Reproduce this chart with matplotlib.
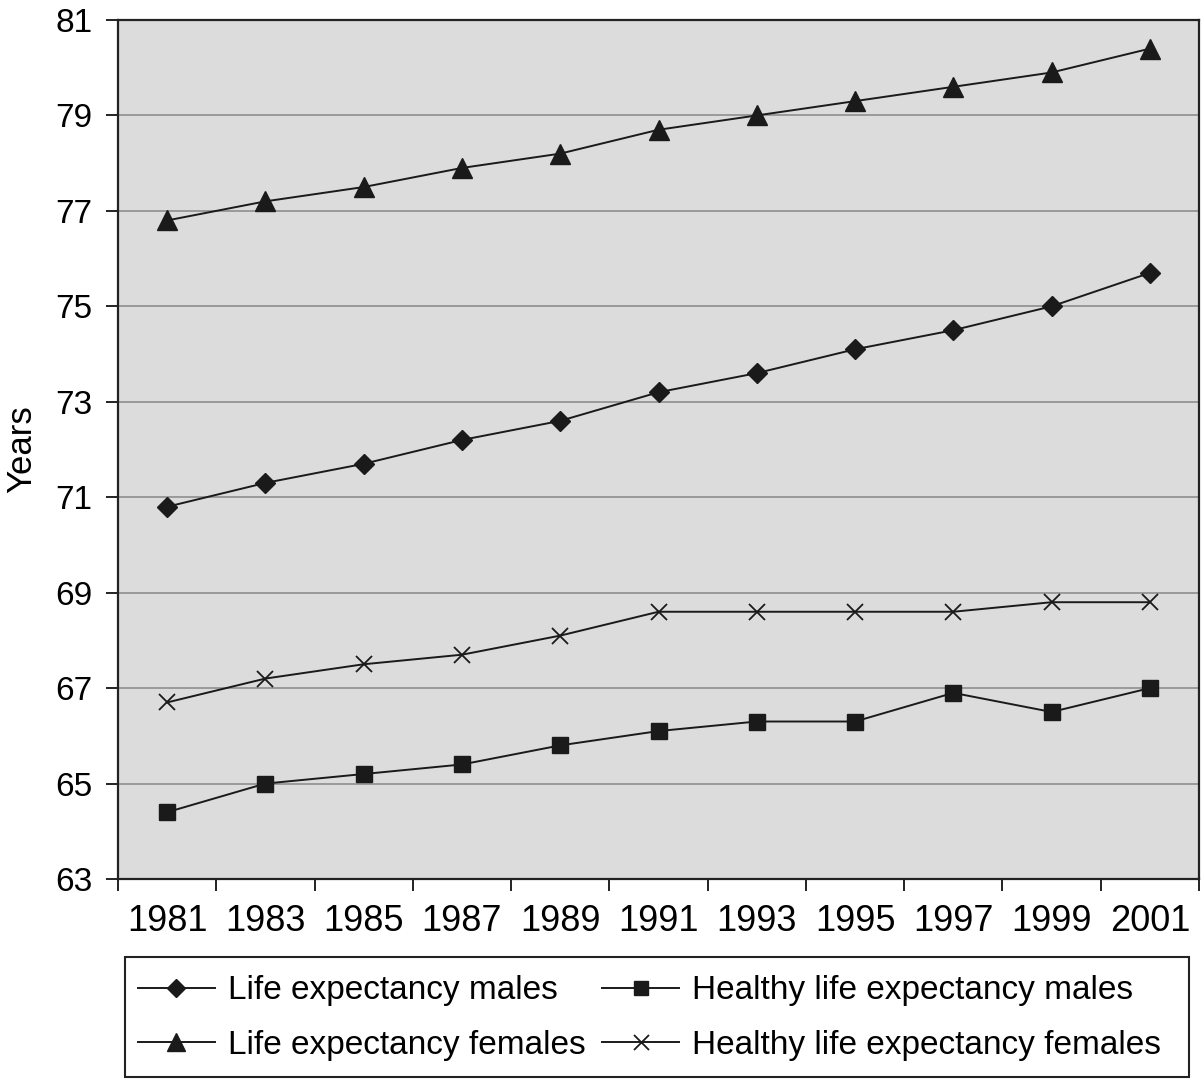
import matplotlib
matplotlib.use("Agg")
import matplotlib.pyplot as plt
from matplotlib.patches import Rectangle
import numpy as np

plt.rcParams['font.family'] = ['Liberation Sans', 'DejaVu Sans']

years = ['1981', '1983', '1985', '1987', '1989', '1991', '1993', '1995', '1997', '1999', '2001']
le_males = [70.8, 71.3, 71.7, 72.2, 72.6, 73.2, 73.6, 74.1, 74.5, 75.0, 75.7]
le_females = [76.8, 77.2, 77.5, 77.9, 78.2, 78.7, 79.0, 79.3, 79.6, 79.9, 80.4]
hle_males = [64.4, 65.0, 65.2, 65.4, 65.8, 66.1, 66.3, 66.3, 66.9, 66.5, 67.0]
hle_females = [66.7, 67.2, 67.5, 67.7, 68.1, 68.6, 68.6, 68.6, 68.6, 68.8, 68.8]
y_ticks = [63, 65, 67, 69, 71, 73, 75, 77, 79, 81]

W, H = 1204, 1079
fig = plt.figure(figsize=(W/100, H/100), dpi=100)
ax = fig.add_axes([118/W, 1-879/H, (1199-118)/W, (879-20)/H])
ax.set_facecolor('#dcdcdc')

x = np.arange(len(years))
c = '#1a1a1a'
lw = 1.4
h1, = ax.plot(x, le_males, color=c, lw=lw, marker='D', ms=10.5, label='Life expectancy males')
h2, = ax.plot(x, le_females, color=c, lw=lw, marker='^', ms=14, label='Life expectancy females')
h3, = ax.plot(x, hle_males, color=c, lw=lw, marker='s', ms=11, label='Healthy life expectancy males')
h4, = ax.plot(x, hle_females, color=c, lw=lw, marker='x', ms=12, mew=1.3, label='Healthy life expectancy females')

ax.set_xlim(-0.5, len(years) - 0.5)
ax.set_ylim(63, 81)
ax.set_yticks(y_ticks)
ax.set_yticklabels([str(v) for v in y_ticks], fontsize=24)
ax.yaxis.grid(True, color='#9a9a9a', lw=1.4)
ax.set_axisbelow(True)

ax.set_xticks(x)
ax.set_xticklabels(years, fontsize=26)
ax.set_xticks(np.arange(-0.5, len(years), 1.0), minor=True)
ax.tick_params(axis='x', which='major', length=0, pad=18)
ax.tick_params(axis='x', which='minor', length=8.6, width=1.4, direction='out', color='#222222')
ax.tick_params(axis='y', length=8.6, width=1.4, direction='out', color='#222222', pad=10)
for s in ax.spines.values():
    s.set_color('#222222')
    s.set_linewidth(1.6)

ax.set_ylabel('Years', fontsize=25, labelpad=12)

leg = fig.legend(handles=[h1, h2, h3, h4], loc='center left',
                 bbox_to_anchor=(138/W, 1-1018/H),
                 ncol=2, fontsize=24, frameon=False,
                 handlelength=2.3, handletextpad=0.4,
                 borderaxespad=0, columnspacing=0.5, labelspacing=0.7, borderpad=0.0)
for lh in leg.legend_handles:
    lh.set_markersize(lh.get_markersize() * 0.9)

fig.add_artist(Rectangle((125/W, 1-1077/H), (1189-125)/W, (1077-957)/H,
                         transform=fig.transFigure, fill=False,
                         edgecolor='#222222', lw=1.5))

fig.savefig('out.png', dpi=100)
